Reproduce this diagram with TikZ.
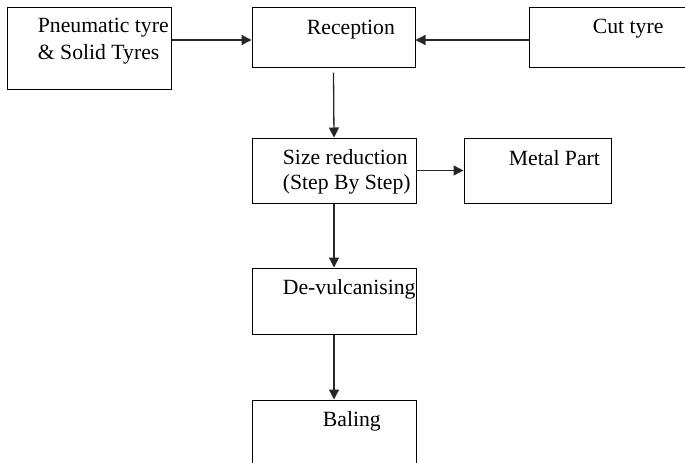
\documentclass[tikz,border=0pt]{standalone}
\usepackage{fontspec}
\setmainfont{Liberation Serif}
\usetikzlibrary{arrows.meta}
\tikzset{stage/.style={draw,rectangle,line width=0.5pt,inner sep=0pt}}
\tikzset{caption/.style={anchor=base west,inner sep=0pt,
                         font=\fontsize{10.85}{13.5}\selectfont}}
\tikzset{flow/.style={-{Triangle[length=5pt,width=5pt]},
                      line width=0.65pt,black!85}}

\begin{document}
\begin{tikzpicture}[x=0.5pt,y=-0.5pt]
    \useasboundingbox (0,0) rectangle (685,462);
    \clip (0,0) rectangle (685,462);
    % boxes
    \foreach \n/\x/\y/\w/\h in {pneu/89/48/82/41, recep/333.5/37/81.5/30,
                                cut/629/37/100/30, size/334/170.5/82/32.5,
                                metal/537.5/170.5/73.5/32.5, devul/334/301/82/33,
                                baling/334/440/82/40}{%
          \node[stage,minimum width=\w pt,minimum height=\h pt] (\n) at (\x,\y) {};
        }
    % texts
    \foreach \n/\dx/\dy/\t in {recep/55/28/Reception, cut/64/27/Cut tyre,
                               metal/45/28/Metal Part, devul/31/27/De-vulcanising,
                               baling/71/27/Baling}{%
          \node[caption] (\n-t) at ([shift={(\dx,\dy)}]\n.north west) {\t};
        }
    \node[caption] (pneu-t1) at ([shift={(31,26)}]pneu.north west) {Pneumatic tyre};
    \node[caption] (pneu-t2) at ([shift={(31,53)}]pneu.north west) {\& Solid Tyres};
    \node[caption] (size-t1) at ([shift={(31,27)}]size.north west) {Size reduction};
    \node[caption] (size-t2) at ([shift={(31,52)}]size.north west) {(Step By Step)};

    % arrows
    \coordinate (pneu-out) at ([yshift=4pt]pneu.east);
    \coordinate (cut-out) at ([yshift=-1.5pt]cut.west);
    \draw[flow] (pneu-out) -- (pneu-out -| recep.west);
    \draw[flow] (cut-out) -- (cut-out -| recep.east);
    \draw[flow] ([yshift=-2.5pt]recep.south) -- (size.north);
    \draw[flow] (size) -- (metal);
    \draw[flow] (size) -- (devul);
    \draw[flow] (devul) -- (baling);
\end{tikzpicture}
\end{document}
